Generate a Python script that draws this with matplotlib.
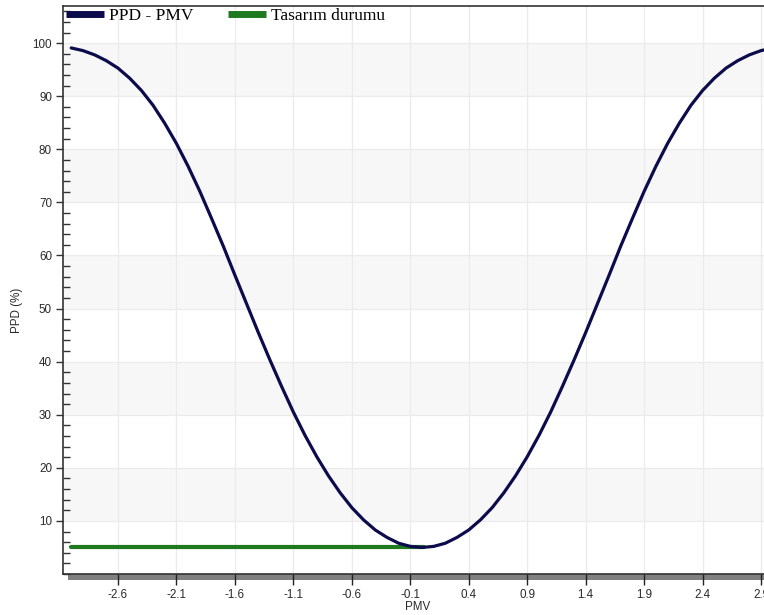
import matplotlib
matplotlib.use("Agg")
import matplotlib.pyplot as plt
from matplotlib.patches import Rectangle
from matplotlib.ticker import MultipleLocator

# ---- data ----
pmv = [-3.0, -2.9, -2.8, -2.7, -2.6, -2.5, -2.4, -2.3, -2.2, -2.1,
       -2.0, -1.9, -1.8, -1.7, -1.6, -1.5, -1.4, -1.3, -1.2, -1.1,
       -1.0, -0.9, -0.8, -0.7, -0.6, -0.5, -0.4, -0.3, -0.2, -0.1,
       0.0, 0.1, 0.2, 0.3, 0.4, 0.5, 0.6, 0.7, 0.8, 0.9,
       1.0, 1.1, 1.2, 1.3, 1.4, 1.5, 1.6, 1.7, 1.8, 1.9,
       2.0, 2.1, 2.2, 2.3, 2.4, 2.5, 2.6, 2.7, 2.8, 2.9, 3.0]
ppd = [99.1, 98.6, 97.8, 96.7, 95.3, 93.4, 91.1, 88.3, 84.9, 81.1,
       76.8, 72.1, 67.0, 61.8, 56.3, 50.9, 45.5, 40.3, 35.3, 30.5,
       26.1, 22.1, 18.5, 15.3, 12.5, 10.2, 8.3, 6.9, 5.8, 5.2,
       5.0, 5.2, 5.8, 6.9, 8.3, 10.2, 12.5, 15.3, 18.5, 22.1,
       26.1, 30.5, 35.3, 40.3, 45.5, 50.9, 56.3, 61.8, 67.0, 72.1,
       76.8, 81.1, 84.9, 88.3, 91.1, 93.4, 95.3, 96.7, 97.8, 98.6, 99.1]
design_pmv = [-3.0, 0.02]
design_ppd = [5.0, 5.0]
xticks = [-2.6, -2.1, -1.6, -1.1, -0.6, -0.1, 0.4, 0.9, 1.4, 1.9, 2.4, 2.9]
yticks = [10, 20, 30, 40, 50, 60, 70, 80, 90, 100]
band_starts = [10, 30, 50, 70, 90]
series_labels = ["PPD - PMV", "Tasarım durumu"]
xlabel = "PMV"
ylabel = "PPD (%)"

W, H = 764, 615
fig = plt.figure(figsize=(W / 100, H / 100), dpi=100)

left_px, right_px, top_px, bottom_px = 63, 781, 6, 574
ax = fig.add_axes([left_px / W, 1 - bottom_px / H,
                   (right_px - left_px) / W, (bottom_px - top_px) / H])
ax.set_xlim(-3.07, 3.07)
ax.set_ylim(0, 107)

# background bands
for b in band_starts:
    ax.axhspan(b, b + 10, color="#f7f7f7", zorder=0.3, lw=0)

ax.grid(True, which="major", color="#ebebeb", lw=0.9, zorder=0.5)
ax.set_axisbelow(True)

l1, = ax.plot(pmv, ppd, color="#0c0c4c", lw=2.3, zorder=3,
              solid_capstyle="round", label=series_labels[0])
l2, = ax.plot(design_pmv, design_ppd, color="#1f7a1f", lw=3.0, zorder=2.8,
              solid_capstyle="round", label=series_labels[1])

ax.set_xticks(xticks)
ax.set_xticklabels([f"{t:.1f}" for t in xticks])
ax.set_yticks(yticks)
ax.yaxis.set_minor_locator(MultipleLocator(2))

for lab in ax.get_xticklabels() + ax.get_yticklabels():
    lab.set_fontfamily("Liberation Sans")
    lab.set_fontsize(8.4)
    lab.set_color("#2a2a2a")

ax.tick_params(axis="x", which="major", direction="out", length=8, width=1,
               color="#222222", pad=3)
ax.tick_params(axis="y", which="major", direction="out", length=5, width=1,
               color="#333333", pad=3)
ax.tick_params(axis="y", which="minor", direction="in", length=5, width=1,
               color="#333333")
ax.tick_params(axis="x", which="minor", length=0)

for s in ["left", "top", "bottom"]:
    ax.spines[s].set_color("#333333")
    ax.spines[s].set_linewidth(1.2)
ax.spines["right"].set_visible(False)

# shadow bar below x axis
fig.add_artist(Rectangle((68 / W, 1 - 580 / H), (W - 68) / W, 6 / H,
                         transform=fig.transFigure, facecolor="#808080",
                         edgecolor="none", zorder=-1))

ax.set_xlabel(xlabel, fontfamily="Liberation Sans", fontsize=8.4,
              color="#2a2a2a")
ax.set_ylabel(ylabel, fontfamily="Liberation Sans", fontsize=8.4,
              color="#2a2a2a")
ax.xaxis.set_label_coords((418 - left_px) / (right_px - left_px), -0.048)
ax.yaxis.set_label_coords(-(left_px - 23) / (right_px - left_px), 0.465)

leg = ax.legend(handles=[l1, l2], loc="upper left",
                bbox_to_anchor=(3 / (right_px - left_px), 1 - 2 / (bottom_px - top_px)),
                ncol=2, frameon=False, borderpad=0, borderaxespad=0,
                handlelength=2.2, handletextpad=0.3, columnspacing=1.95,
                prop=dict(family="Liberation Serif", size=12.5))
for h in leg.get_lines():
    h.set_linewidth(5)
    h.set_solid_capstyle("butt")

fig.savefig("out.png", dpi=100)
